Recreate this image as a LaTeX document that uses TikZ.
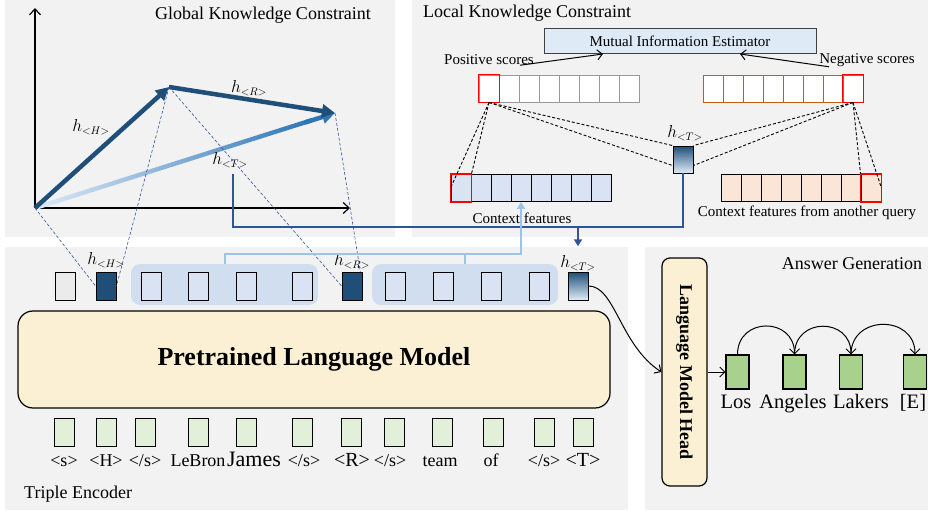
\documentclass[tikz,border=0pt]{standalone}
\usepackage{fontspec}
\setmainfont{Liberation Serif}
\usetikzlibrary{arrows.meta,calc}

\definecolor{panelgray}{HTML}{F2F2F2}
\definecolor{hdark}{HTML}{1F4E79}
\definecolor{hmid}{HTML}{2E75B6}
\definecolor{hlight}{HTML}{DEEBF7}
\definecolor{pathblue}{HTML}{2F5597}
\definecolor{linkblue}{HTML}{9DC3E6}
\definecolor{groupblue}{HTML}{D0DEEF}
\definecolor{cellblue}{HTML}{DAE3F3}
\definecolor{cellpeach}{HTML}{FBE5D6}
\definecolor{cellorange}{HTML}{C55A11}
\definecolor{cellgreen}{HTML}{E2F0D9}
\definecolor{ansgreen}{HTML}{A9D18E}
\definecolor{lmyellow}{HTML}{FBF0D4}

\newcommand{\fsz}[1]{\fontsize{#1}{#1}\selectfont}

\begin{document}
\begin{tikzpicture}[x=1pt, y=-1pt]
    \tikzset{
        panel/.style={fill=panelgray, draw=none},
        title/.style={font=\fsz{18}, inner sep=0pt},
        small/.style={font=\fsz{15}, inner sep=0pt},
        hlbl/.style={font=\fsz{16}, inner sep=0pt},
        tok/.style={draw=black, line width=0.9pt, minimum width=20pt, minimum height=28pt, inner sep=0pt},
        score/.style={tok, minimum height=27pt, fill=white},
        redbox/.style={draw=red, line width=1.6pt},
        group/.style={fill=groupblue, rounded corners=9pt, minimum height=41pt, inner sep=0pt},
        vec/.style={line width=4.5pt, draw=hdark, -{Triangle[length=13pt, width=13pt]}},
        axis/.style={line width=1.2pt, -{Straight Barb[length=6pt, width=11pt]}},
        arr/.style={line width=1pt, -{Straight Barb[length=5pt, width=10pt]}},
        gdash/.style={draw=pathblue, line width=0.6pt, dash pattern=on 3pt off 2pt},
        kdash/.style={draw=black, line width=0.9pt, dash pattern=on 3pt off 2pt},
        tpath/.style={draw=pathblue, line width=2pt},
        lpath/.style={draw=linkblue, line width=2pt},
        lmbox/.style={draw=black, line width=1.2pt, fill=lmyellow, inner sep=0pt},
        ans/.style={draw=black, line width=1.1pt, fill=ansgreen, minimum width=23pt, minimum height=34pt, inner sep=0pt}
    }
    \useasboundingbox (0,0) rectangle (930,511);

    % Panels:
    \fill[panel] (5,0) rectangle (395,237);
    \fill[panel] (412,0) rectangle (928,237);
    \fill[panel] (5,247) rectangle (628,510);
    \fill[panel] (645,247) rectangle (928,510);

    % Global knowledge constraint:
    \node[title] (gtitle) at (263,15) {Global Knowledge Constraint};
    \coordinate (O) at (35,208);
    \coordinate (Htip) at (169,87);
    \coordinate (Rtip) at (335,113);
    \coordinate (yend) at (35,8);
    \coordinate (xend) at (350,208);
    \draw[axis] (O) -- (yend);
    \draw[axis] (O) -- (xend);

    \begin{scope}[shift={(O)}, rotate=17.6]
        \shade[left color=hlight, right color=hmid] (0,-2.2) rectangle (290,2.2);
    \end{scope}
    \draw[vec, draw=hmid] ($(O)!0.9!(Rtip)$) -- (Rtip);
    \draw[vec] (O) -- (Htip);
    \draw[vec] (Htip) -- (Rtip);

    \node[hlbl] (gH) at (91,127) {$h_{<H>}$};
    \node[hlbl] (gR) at (249,88) {$h_{<R>}$};
    \node[hlbl] (gT) at (230,160) {$h_{<T>}$};

    % Local knowledge constraint:
    \node[title, anchor=west] (ltitle) at (423,13) {Local Knowledge Constraint};
    \node[small, draw=black!75, line width=1pt, fill=hlight, minimum width=272pt, minimum height=25pt] (mie) at (680,41) {Mutual Information Estimator};
    \node[small] (poslbl) at (489,60) {Positive scores};
    \node[small] (neglbl) at (867,60) {Negative scores};

    \foreach \i in {1,...,8} {
        \node[score, draw=black!40] (pos-\i) at ({469+20*\i}, 88.5) {};
        \node[score, draw=cellorange] (neg-\i) at ({693+20*\i}, 88.5) {};
        \node[score, fill=cellblue] (ctx-\i) at ({441+20*\i}, 188) {};
        \node[score, fill=cellpeach] (oth-\i) at ({711+20*\i}, 188) {};
    }
    \draw[redbox] (pos-1.south west) rectangle (pos-1.north east);
    \draw[redbox] (neg-8.south west) rectangle (neg-8.north east);
    \draw[redbox] (ctx-1.south west) rectangle (ctx-1.north east);
    \draw[redbox] (oth-8.south west) rectangle (oth-8.north east);

    \node[tok, minimum height=27pt, top color=hdark, bottom color=hlight] (hTl) at (683,159.5) {};
    \node[hlbl] (hTllbl) at (685,133) {$h_{<T>}$};

    \draw[kdash] (pos-1.south) -- (ctx-1.west);
    \draw[kdash] (pos-1.south) -- (ctx-1.north east);
    \draw[kdash] (pos-1.south) -- (hTl.north west);
    \draw[kdash] (pos-1.south) -- (hTl.210);
    \draw[kdash] (neg-8.south) -- (hTl.north east);
    \draw[kdash] (neg-8.south) -- (hTl.-30);
    \draw[kdash] (neg-8.south) -- (oth-8.north west);
    \draw[kdash] (neg-8.south) -- (oth-8.east);

    \node[small] (ctxlbl) at (522,218) {Context features};
    \node[small] (othlbl) at (807,213) {Context features from another query};

    \draw[arr] ([xshift=-14pt]poslbl.south east) -- ([xshift=-77pt]mie.south);
    \draw[arr] ([xshift=-38pt]neglbl.south) -- ([xshift=60pt]mie.south);

    % Triple encoder:
    \node[group, minimum width=187pt] (g1) at (224.5,284.5) {};
    \node[group, minimum width=186pt] (g2) at (465,284.5) {};

    \node[tok, fill=black!8] (o-1) at (65,286) {};
    \node[tok, fill=hdark] (oH) at (106,286) {};
    \foreach \x [count=\k] in {151,198,246,302}
        \node[tok, fill=cellblue] (a-\k) at (\x,286) {};
    \node[tok, fill=hdark] (oR) at (352,286) {};
    \foreach \x [count=\k] in {395,443,491,539}
        \node[tok, fill=cellblue] (b-\k) at (\x,286) {};
    \node[tok, top color=hdark, bottom color=hlight] (oT) at (578,286) {};

    \node[hlbl] (oHlbl) at (106,260) {$h_{<H>}$};
    \node[hlbl] (oRlbl) at (352,261) {$h_{<R>}$};
    \node[hlbl] (oTlbl) at (578,263) {$h_{<T>}$};

    \node[lmbox, rounded corners=15pt, minimum width=592pt, minimum height=97pt,
          font=\fsz{26}\bfseries] (plm) at (314,359.5) {Pretrained Language Model};

    \foreach \x/\l/\t/\s [count=\k] in {64/64/{<s>}/18, 106/106/{<H>}/18, 145/145/{</s>}/18,
            198/198/LeBron/18, 246/254/James/22, 302/304/{</s>}/18, 351/352/{<R>}/20,
            394/390/{</s>}/18, 442/440/team/18, 493/491/of/18, 544/544/{</s>}/18, 583/583/{<T>}/20} {
        \node[tok, fill=cellgreen] (in-\k) at (\x,432) {};
        \node[anchor=base, inner sep=0pt, font=\fsz{\s}] (inl-\k) at (\l,466) {\t};
    }
    \node[title, anchor=west] (tetitle) at (24,494) {Triple Encoder};

    % Answer generation:
    \node[title] (agtitle) at (852,264) {Answer Generation};
    \node[lmbox, rounded corners=8pt, minimum width=45pt, minimum height=228pt] (lmh) at (684.5,372) {};
    \node[rotate=-90, inner sep=0pt, font=\fsz{18}\bfseries] (lmhtxt) at (lmh) {Language Model Head};

    \foreach \x [count=\k] in {737.5,794.5,851,915}
        \node[ans] (ans-\k) at (\x,372) {};
    \foreach \x/\t in {736/Los, 793/Angeles, 861/Lakers, 913/{[E]}}
        \node[anchor=base, inner sep=0pt, font=\fsz{20.5}] at (\x,408) {\t};

    \draw[arr] (ans-1.north) to[out=90, in=90, looseness=1.7] (ans-2.north);
    \draw[arr] (ans-2.north) to[out=90, in=90, looseness=1.7] (ans-3.north);
    \draw[arr] (ans-3.north) to[out=90, in=90, looseness=1.6] (ans-4.north);
    \draw[arr] (lmh.east) -- (ans-1.west);
    \draw[arr] (oT.east) .. controls (615,286) and (620,345) .. (lmh.west);

    % Links between panels:
    \draw[gdash] (O) -- (oH.west);
    \draw[gdash] (Htip) -- (oH.east);
    \draw[gdash] (Htip) -- (oR.west);
    \draw[gdash] (Rtip) -- (oR.60);

    \coordinate (tbend) at (233,227);
    \draw[tpath] ([xshift=3pt,yshift=-6pt]gT.south) -- (tbend) -| (hTl.south);
    \draw[tpath, -{Triangle[length=7pt, width=8pt]}] (oTlbl.north |- tbend) -- ([yshift=9pt]oTlbl.north);

    \coordinate (lbar) at (224,254);
    \draw[lpath] (g2.north) -- (g2.north |- lbar);
    \draw[lpath, -{Triangle[length=7pt, width=8pt]}] (g1.north) |- (ctx-4.south |- lbar) -- (ctx-4.south);
\end{tikzpicture}
\end{document}
